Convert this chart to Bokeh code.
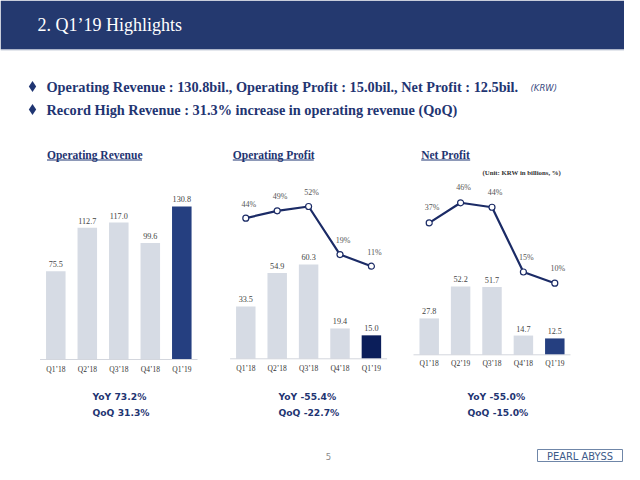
from bokeh.plotting import figure
from bokeh.models import Range1d
from bokeh.embed import file_html
from bokeh.resources import INLINE
from bokeh.core.properties import value

# ---------------- data ----------------
title_text = "2. Q1\u201919 Highlights"
bullet_lines = [
    "Operating Revenue : 130.8bil., Operating Profit : 15.0bil., Net Profit : 12.5bil.",
    "Record High Revenue : 31.3% increase in operating revenue (QoQ)",
]
unit_note = "(KRW)"
chart_titles = ["Operating Revenue", "Operating Profit", "Net Profit"]
categories = ["Q1\u201918", "Q2\u201918", "Q3\u201918", "Q4\u201918", "Q1\u201919"]
net_categories = ["Q1\u201918", "Q2\u201919", "Q3\u201918", "Q4\u201918", "Q1\u201919"]
revenue = [75.5, 112.7, 117.0, 99.6, 130.8]
op_profit = [33.5, 54.9, 60.3, 19.4, 15.0]
op_margin = [44, 49, 52, 19, 11]
net_profit = [27.8, 52.2, 51.7, 14.7, 12.5]
net_margin = [37, 46, 44, 15, 10]
yoy = ["YoY 73.2%", "YoY -55.4%", "YoY -55.0%"]
qoq = ["QoQ 31.3%", "QoQ -22.7%", "QoQ -15.0%"]
unit_text = "(Unit: KRW in billions, %)"
page_no = "5"
logo_text = "PEARL ABYSS"

# ---------------- styles ----------------
NAVY = "#24396f"
TEXT_NAVY = "#1f3572"
LIGHT_BAR = "#d6dbe4"
LINE_COL = "#1b2b66"
SERIF = value("Liberation Serif")
SANS = value("DejaVu Sans")

W, H = 624, 464
X0, Y0 = 0, 0

p = figure(width=W, height=H, output_backend="svg", toolbar_location=None,
           x_range=Range1d(X0, X0 + W), y_range=Range1d(Y0 + H, Y0),
           min_border=0, outline_line_color=None)
p.axis.visible = False
p.grid.visible = False
p.background_fill_color = "white"
p.border_fill_color = "white"

# header band
p.quad(left=X0, right=X0 + W, top=Y0, bottom=49, fill_color=NAVY, line_color=None)
p.segment(x0=X0, x1=X0 + W, y0=49.5, y1=49.5, line_color="#c9cfdc", line_width=1)
p.text(x=[37], y=[24], text=[title_text], text_color="white", text_font=SERIF,
       text_font_size="18px", text_baseline="middle", text_align="left")

# bullets
p.scatter(x=[32, 32], y=[86, 109], marker="diamond", size=11, fill_color=TEXT_NAVY,
          line_color=None)
p.text(x=[46, 46], y=[86, 109], text=bullet_lines, text_color=TEXT_NAVY, text_font=SERIF,
       text_font_style="bold", text_font_size="14.3px", text_baseline="middle")
p.text(x=[530], y=[87], text=[unit_note], text_color="#3a4a80", text_font=SANS,
       text_font_style="italic", text_font_size="8.5px", text_baseline="middle")

title_text_map = {"c1": chart_titles[0], "c2": chart_titles[1], "c3": chart_titles[2]}


def add_chart(name, cats, vals, dark, x0, dx, base, k, title_x, title_w,
              label_y_off, line_vals=None, lbase=None, lk=None, lx_off=0, ly_off=-13):
    # ranges so that index i -> x0 + i*dx and value v -> base - k*v (pixels)
    p.extra_x_ranges[name + "x"] = Range1d((X0 - x0) / dx, (X0 + W - x0) / dx)
    p.extra_y_ranges[name + "y"] = Range1d((base - (Y0 + H)) / k, (base - Y0) / k)
    idx = list(range(len(cats)))
    colors = [LIGHT_BAR] * (len(cats) - 1) + [dark]
    kw = dict(x_range_name=name + "x", y_range_name=name + "y")
    p.vbar(x=idx, top=vals, bottom=0, width=0.62, fill_color=colors, line_color=None, **kw)
    p.segment(x0=[-0.5], x1=[len(cats) - 0.5], y0=[0], y1=[0], line_color="#d3d6dd",
              line_width=1, **kw)
    p.text(x=idx, y=vals, text=[f"{v:.1f}" for v in vals], y_offset=-4,
           text_align="center", text_baseline="bottom", text_font=SERIF,
           text_font_size="8.2px", text_color="#444444", **kw)
    p.text(x=idx, y=[0] * len(cats), text=cats, y_offset=label_y_off,
           text_align="center", text_baseline="middle", text_font=SERIF,
           text_font_size="7.5px", text_color="#333333", **kw)
    # title with underline
    p.text(x=[title_x], y=[154], text=[title_text_map[name]], text_color=TEXT_NAVY,
           text_font=SERIF, text_font_style="bold", text_font_size="11.5px",
           text_baseline="middle")
    p.segment(x0=[title_x], x1=[title_x + title_w], y0=[159.5], y1=[159.5],
              line_color=TEXT_NAVY, line_width=1)
    if line_vals is not None:
        p.extra_y_ranges[name + "m"] = Range1d((lbase - (Y0 + H)) / lk, (lbase - Y0) / lk)
        mk = dict(x_range_name=name + "x", y_range_name=name + "m")
        p.line(x=idx, y=line_vals, line_color=LINE_COL, line_width=2.2, **mk)
        p.scatter(x=idx, y=line_vals, size=6, fill_color="white", line_color=LINE_COL,
                  line_width=1.2, **mk)
        p.text(x=idx, y=line_vals, text=[f"{v}%" for v in line_vals], y_offset=ly_off,
               x_offset=lx_off, text_align="center", text_baseline="middle",
               text_font=SERIF, text_font_size="8px", text_color="#555555", **mk)


add_chart("c1", categories, revenue, "#253f80", 55.3, 31.5, 359, 1.17, 46.5, 95, 10)
add_chart("c2", categories, op_profit, "#0b1e5a", 245.3, 31.4, 358.3, 1.564, 232.3, 81, 9.5,
          op_margin, 281.7, 1.456, 3, -14)
add_chart("c3", net_categories, net_profit, "#253f80", 428.7, 31.4, 354.3, 1.309, 420.7, 49, 8.5,
          net_margin, 305, 2.233, 3, -15)

# unit note
p.text(x=[482], y=[172], text=[unit_text], text_color="#333333", text_font=SERIF,
       text_font_style="bold", text_font_size="6.8px", text_baseline="middle")

# YoY / QoQ
p.text(x=[92, 278, 467], y=[396] * 3, text=yoy, text_color=TEXT_NAVY, text_font=SANS,
       text_font_style="bold", text_font_size="9.2px", text_baseline="middle")
p.text(x=[92, 278, 467], y=[412] * 3, text=qoq, text_color=TEXT_NAVY, text_font=SANS,
       text_font_style="bold", text_font_size="9.2px", text_baseline="middle")

# footer
p.text(x=[328], y=[456], text=[page_no], text_color="#8a8a8a", text_font=SANS,
       text_font_size="8.5px", text_align="center", text_baseline="middle")
p.quad(left=537, right=622, top=449, bottom=461, fill_color=None, line_color="#6f86a8",
       line_width=1)
p.text(x=[579.5], y=[455.5], text=[logo_text], text_color="#3d5a88",
       text_font=value("DejaVu Sans Condensed"),
       text_font_size="11px", text_align="center", text_baseline="middle")

open("out.html", "w").write(file_html(p, INLINE))
